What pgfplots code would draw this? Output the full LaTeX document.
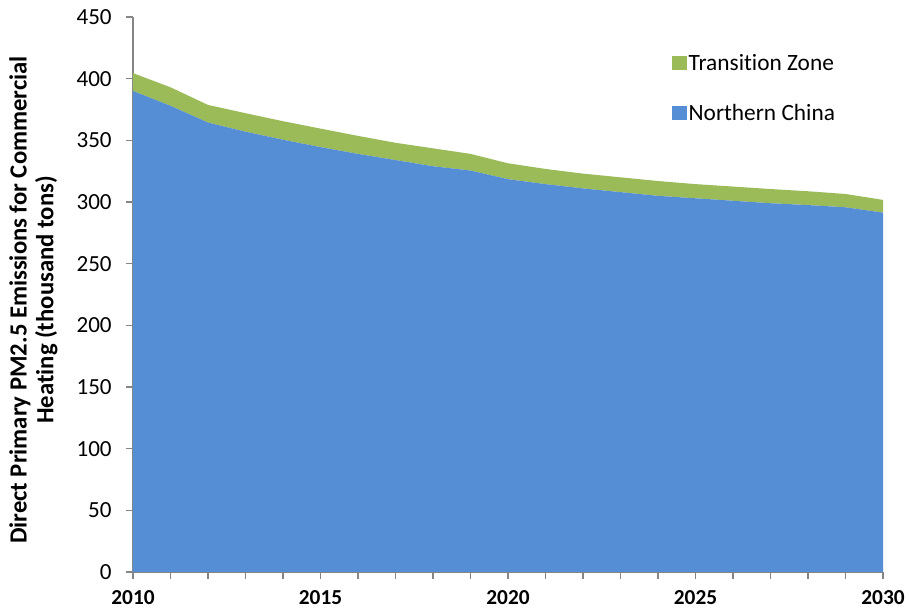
\documentclass[border=0pt]{standalone}
\usepackage{pgfplots}
\pgfplotsset{compat=1.18}
\usepackage{fontspec}
\setmainfont{Carlito}[Ligatures=NoCommon]
\definecolor{ncblue}{RGB}{85,142,213}
\definecolor{tzgreen}{RGB}{155,187,89}
\definecolor{axgrey}{RGB}{134,134,134}
\begin{document}
\begin{tikzpicture}
\begin{axis}[
  scale only axis,
  width=562.5pt, height=416.25pt,
  xmin=2010, xmax=2030, ymin=0, ymax=450,
  stack plots=y,
  axis x line*=bottom, axis y line*=left,
  axis line style={axgrey, line width=0.8pt, -},
  xtick={2010,2015,2020,2025,2030},
  minor xtick={2011,2012,2013,2014,2016,2017,2018,2019,2021,2022,2023,2024,2026,2027,2028,2029},
  ytick={0,50,...,450},
  tick align=outside,
  major tick length=5pt, minor tick length=5pt,
  tick style={axgrey, line width=0.8pt},
  /pgf/number format/assume math mode=true,
  /pgf/number format/1000 sep={},
  yticklabel style={font=\fontsize{17.3}{20}\selectfont, black, xshift=-7.5pt},
  xticklabel style={font=\fontsize{16}{19}\selectfont\bfseries, black, yshift=-5.5pt},
  ylabel={Direct Primary PM2.5 Emissions for Commercial\\Heating (thousand tons)},
  ylabel style={at={(axis description cs:-0.1327,0.49)}, anchor=center, rotate=0, align=center, font=\fontsize{18.5}{20}\selectfont\bfseries},
  reverse legend,
  legend style={at={(axis cs:2024.25,424)}, anchor=north west, draw=none, fill=none,
    font=\fontsize{17.5}{20}\selectfont, row sep=21pt,
    nodes={inner sep=1.5pt}},
  legend cell align=left,
  legend image code/.code={\fill[#1] (0pt,-5.4pt) rectangle (11.25pt,5.4pt);},
]
\addplot[fill=ncblue, draw=none] coordinates {
(2010,390) (2011,378) (2012,364.4) (2013,357) (2014,350.5) (2015,344.5)
(2016,339) (2017,334) (2018,329) (2019,325.5) (2020,318.5) (2021,314.5)
(2022,311) (2023,308) (2024,305) (2025,303) (2026,301) (2027,299)
(2028,297.5) (2029,295.7) (2030,291.4)
} \closedcycle;
\addlegendentry{Northern China}
\addplot[fill=tzgreen, draw=none] coordinates {
(2010,14.5) (2011,15) (2012,14.3) (2013,15) (2014,15) (2015,15)
(2016,14.6) (2017,14) (2018,14.5) (2019,13.5) (2020,12.9) (2021,12.3)
(2022,12) (2023,12) (2024,12) (2025,11.5) (2026,11.5) (2027,11.5)
(2028,11.2) (2029,10.8) (2030,10.3)
} \closedcycle;
\addlegendentry{Transition Zone}
\end{axis}
\pgfresetboundingbox
\path ([xshift=-99.75pt,yshift=-32.25pt]current axis.south west) rectangle ([xshift=19.5pt,yshift=12.75pt]current axis.north east);
\end{tikzpicture}
\end{document}
